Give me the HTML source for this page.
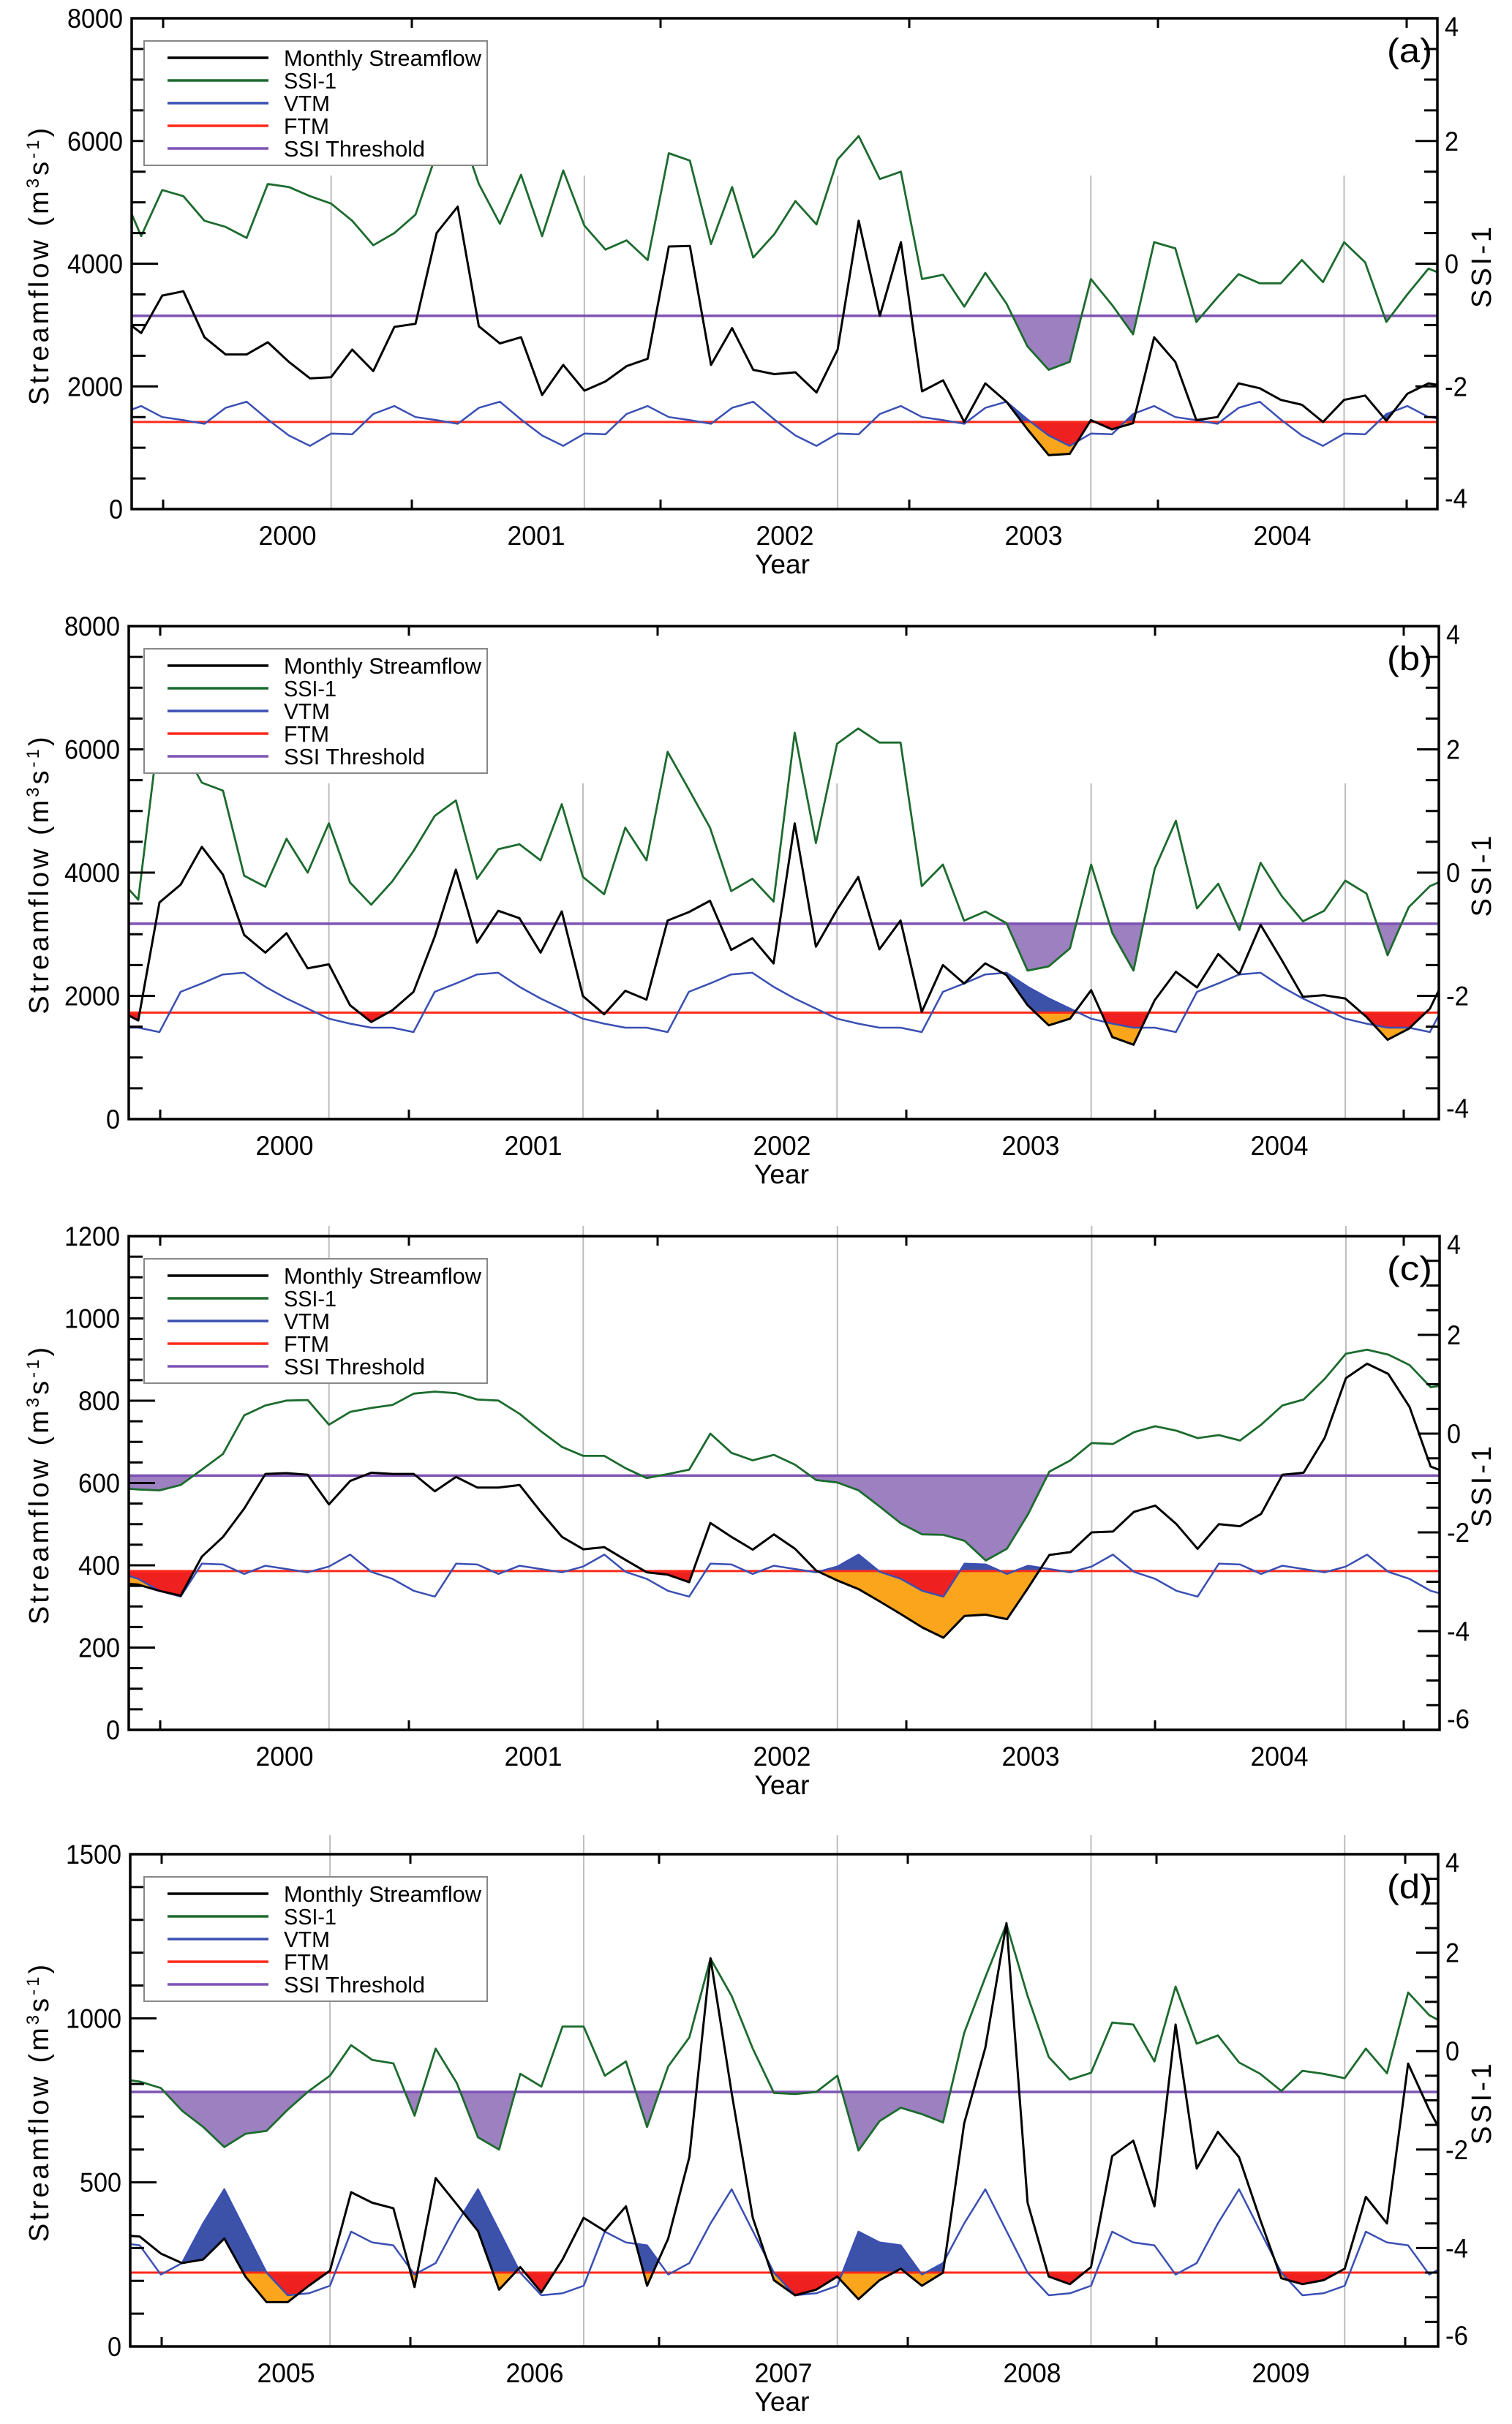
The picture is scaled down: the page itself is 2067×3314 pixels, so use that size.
<!DOCTYPE html>
<html><head><meta charset="utf-8"><title>Streamflow drought panels</title>
<style>
html,body{margin:0;padding:0;background:#fff;}
svg{display:block;font-family:"Liberation Sans",Arial,sans-serif;}
</style></head>
<body>
<svg id="fig" xmlns="http://www.w3.org/2000/svg" width="2067" height="3314" viewBox="0 0 2067 3314">
<rect x="0" y="0" width="2067" height="3314" fill="#fff"/>
</svg>
<script>
// ---- data (index 0 = month -2 relative to Jan of first year, up to month 62) ----
const yearsA = ['2000','2001','2002','2003','2004'];
const yearsD = ['2005','2006','2007','2008','2009'];

const aFlow = [3130,2870,3480,3550,2800,2520,2520,2720,2400,2130,2150,2600,2250,2970,3020,4500,4930,2980,2700,2800,1860,2350,1930,2080,2330,2450,4280,4290,2350,2950,2270,2200,2230,1900,2600,4700,3150,4350,1920,2100,1420,2050,1750,1300,880,900,1450,1300,1400,2800,2400,1450,1500,2050,1970,1780,1700,1420,1780,1850,1440,1880,2050,1990,1950];
const aSSI = [1.25,0.45,1.2,1.1,0.7,0.6,0.42,1.3,1.25,1.1,0.98,0.7,0.3,0.5,0.8,1.8,2.3,1.3,0.65,1.45,0.45,1.52,0.62,0.23,0.38,0.06,1.8,1.68,0.32,1.25,0.1,0.48,1.02,0.64,1.7,2.08,1.38,1.5,-0.25,-0.18,-0.7,-0.15,-0.65,-1.35,-1.73,-1.6,-0.25,-0.67,-1.15,0.35,0.25,-0.95,-0.55,-0.17,-0.32,-0.32,0.06,-0.3,0.35,0.02,-0.95,-0.5,-0.08,-0.22,-0.3];
const aVTM = [1500,1450,1390,1650,1750,1460,1200,1030,1230,1220,1550,1680];
const aFTM = 1420;
const aThr = -0.85;

const bFlow = [1780,1600,3516,3804,4418,3967,2989,2701,3016,2446,2511,1848,1576,1766,2065,2962,4049,2864,3380,3261,2701,3370,1995,1701,2082,1940,3223,3359,3543,2745,2935,2527,4799,2799,3397,3929,2755,3223,1739,2500,2201,2527,2337,1848,1522,1630,2092,1332,1207,1929,2391,2136,2679,2353,3152,2582,1984,2011,1957,1658,1288,1467,1793,2500,2700];
const bSSI = [-0.06,-0.44,2.37,2.09,1.46,1.33,-0.05,-0.23,0.55,0.0,0.8,-0.16,-0.52,-0.14,0.35,0.92,1.17,-0.1,0.38,0.46,0.2,1.11,-0.07,-0.35,0.73,0.2,1.96,1.35,0.73,-0.3,-0.1,-0.47,2.27,0.48,2.09,2.34,2.11,2.11,-0.22,0.13,-0.78,-0.63,-0.82,-1.59,-1.52,-1.23,0.13,-0.98,-1.59,0.06,0.84,-0.58,-0.18,-0.93,0.16,-0.38,-0.79,-0.62,-0.13,-0.34,-1.34,-0.56,-0.22,-0.07,0.05];
const bVTM = [1413,2065,2201,2348,2375,2147,1957,1793,1630,1549,1484,1484];
const bFTM = 1728;
const bThr = -0.83;

const cFlow = [357,353,338,326,421,469,538,622,624,620,548,605,625,622,622,580,615,589,589,595,530,469,439,444,413,383,377,359,503,469,438,475,440,387,363,342,312,281,249,224,277,280,269,345,425,432,480,482,530,545,500,440,500,495,525,620,625,710,855,890,865,785,640,620,600];
const cSSI = [-1.1,-1.13,-1.15,-1.04,-0.73,-0.41,0.37,0.57,0.67,0.68,0.18,0.44,0.52,0.58,0.81,0.85,0.82,0.69,0.67,0.4,0.05,-0.27,-0.45,-0.45,-0.7,-0.9,-0.82,-0.73,0.0,-0.39,-0.54,-0.43,-0.63,-0.94,-0.99,-1.15,-1.48,-1.82,-2.04,-2.05,-2.17,-2.57,-2.33,-1.63,-0.77,-0.54,-0.19,-0.21,0.03,0.15,0.06,-0.09,-0.03,-0.14,0.18,0.57,0.69,1.11,1.62,1.7,1.6,1.39,0.94,1.0,0.9];
const cVTM = [338,324,404,402,379,399,391,383,397,426,384,367];
const cFTM = 386;
const cThr = -0.85;

const dFlow = [340,335,283,254,265,329,213,135,135,185,231,470,438,421,181,513,433,352,173,242,165,265,392,352,427,185,329,577,1183,773,392,202,156,173,213,144,202,237,185,225,680,910,1290,438,213,190,242,580,627,427,981,542,654,577,387,208,190,202,237,456,375,862,721,600,560];
const dSSI = [-0.56,-0.62,-0.75,-1.21,-1.54,-1.95,-1.68,-1.62,-1.19,-0.81,-0.5,0.12,-0.18,-0.25,-1.31,0.05,-0.65,-1.75,-2.0,-0.46,-0.72,0.5,0.5,-0.5,-0.21,-1.54,-0.31,0.28,1.88,1.12,0.05,-0.85,-0.87,-0.83,-0.5,-2.02,-1.42,-1.15,-1.28,-1.45,0.37,1.5,2.58,1.12,-0.12,-0.58,-0.44,0.58,0.54,-0.21,1.31,0.15,0.32,-0.23,-0.46,-0.81,-0.4,-0.46,-0.55,0.05,-0.45,1.19,0.73,0.5,0.4];
const dVTM = [219,254,375,479,352,225,156,162,185,350,317,308];
const dFTM = 225;
const dThr = -0.83;

const legendLabels = ['Monthly Streamflow','SSI-1','VTM','FTM','SSI Threshold'];
const legendWidths = [270,72,63,62,193];

// ---- layout ----
const COL = {flow:'#000000', ssi:'#1c6b2e', vtm:'#3a4fb3', ftm:'#ff2a1a', thr:'#7e52b3',
             fillP:'#9c80bf', fillB:'#3c52a8', fillR:'#ee2020', fillO:'#fba51c', grid:'#bdbdbd'};
const legendColors = [COL.flow, COL.ssi, COL.vtm, COL.ftm, COL.thr];

const panels = [
 {id:'a', label:'(a)', left:180, right:1965, top:25,   bottom:696,  flow:aFlow, ssi:aSSI, vtm:aVTM, ftm:aFTM, thr:aThr, lmin:0, lmax:8000, lmaj:2000, lminr:500, rmin:-4, rmax:4, years:yearsA, gridTop:215},
 {id:'b', label:'(b)', left:176, right:1967, top:856,  bottom:1530, flow:bFlow, ssi:bSSI, vtm:bVTM, ftm:bFTM, thr:bThr, lmin:0, lmax:8000, lmaj:2000, lminr:500, rmin:-4, rmax:4, years:yearsA, gridTop:215},
 {id:'c', label:'(c)', left:176, right:1968, top:1690, bottom:2365, flow:cFlow, ssi:cSSI, vtm:cVTM, ftm:cFTM, thr:cThr, lmin:0, lmax:1200, lmaj:200, lminr:50, rmin:-6, rmax:4, years:yearsA, gridTop:-14},
 {id:'d', label:'(d)', left:178, right:1966, top:2535, bottom:3208, flow:dFlow, ssi:dSSI, vtm:dVTM, ftm:dFTM, thr:dThr, lmin:0, lmax:1500, lmaj:500, lminr:100, rmin:-6, rmax:4, years:yearsD, gridTop:-26}
];

const NS = 'http://www.w3.org/2000/svg';
const svg = document.getElementById('fig');
function mk(tag, attrs, parent){
  const e = document.createElementNS(NS, tag);
  for (const k in attrs) e.setAttribute(k, attrs[k]);
  (parent || svg).appendChild(e);
  return e;
}
function vtmAt(p, m){ return p.vtm[((m % 12) + 12) % 12]; }
function arrAt(arr, t){ const u = t + 2; let i = Math.floor(u); if (i < 0) i = 0; if (i > arr.length - 2) i = arr.length - 2; const f = u - i; return arr[i] * (1 - f) + arr[i + 1] * f; }
function vtmInterp(p, t){ const i = Math.floor(t); const f = t - i; return vtmAt(p, i) * (1 - f) + vtmAt(p, i + 1) * f; }

panels.forEach(p => {
  const g = mk('g', {});
  
  
  const W = (p.right - p.left) / 61.87;
  const xm = m => p.left + (m + 1.45) * W;
  const tickW = 340 / 12;
  const tick0 = p.left + 43;
  const yL = v => p.bottom - (v - p.lmin) / (p.lmax - p.lmin) * (p.bottom - p.top);
  const yR = s => p.bottom - (s - p.rmin) / (p.rmax - p.rmin) * (p.bottom - p.top);
  const tMin = -1.45, tMax = (p.right - p.left) / W - 1.45;

  const clipId = 'clip-' + p.id;
  const defs = mk('defs', {}, g);
  const cp = mk('clipPath', {id: clipId}, defs);
  mk('rect', {x: p.left, y: p.top, width: p.right - p.left, height: p.bottom - p.top}, cp);

  for (let k = 0; k < 5; k++) {
    const gx = xm(8 + 12 * k);
    const gl = mk('line', {x1: gx, x2: gx, y1: p.top + p.gridTop, y2: p.bottom, stroke: COL.grid, 'stroke-width': 2}, g);
    
    
  }

  const plot = mk('g', {'clip-path': 'url(#' + clipId + ')'}, g);
  
  

  const step = 0.02;
  const samples = [];
  for (let t = tMin; t <= tMax + 1e-9; t += step) {
    samples.push({t: t, f: arrAt(p.flow, t), s: arrAt(p.ssi, t), v: vtmInterp(p, t)});
  }
  function region(name, color, fn) {
    let run = [];
    const flush = () => {
      if (run.length > 1) {
        const pts = run.map(r => r.x.toFixed(1) + ',' + r.hi.toFixed(1)).concat(run.slice().reverse().map(r => r.x.toFixed(1) + ',' + r.lo.toFixed(1)));
        const pg = mk('polygon', {points: pts.join(' '), fill: color, stroke: color, 'stroke-width': 0.6}, plot);
        
        
      }
      run = [];
    };
    samples.forEach(sm => {
      const r = fn(sm);
      if (r) run.push({x: xm(sm.t), hi: r[0], lo: r[1]}); else flush();
    });
    flush();
  }
  region('ssi-deficit-fill', COL.fillP, sm => sm.s < p.thr ? [yR(p.thr), yR(sm.s)] : null);
  region('vtm-deficit-fill', COL.fillB, sm => { const lo = Math.max(sm.f, p.ftm); return sm.v > lo ? [yL(sm.v), yL(lo)] : null; });
  region('ftm-deficit-fill', COL.fillR, sm => { const lo = Math.max(sm.v, sm.f); return p.ftm > lo ? [yL(p.ftm), yL(lo)] : null; });
  region('combined-deficit-fill', COL.fillO, sm => { const hi = Math.min(sm.v, p.ftm); return sm.f < hi ? [yL(hi), yL(sm.f)] : null; });

  const ms = []; for (let m = -2; m <= 62; m++) ms.push(m);
  const thrLine = mk('line', {x1: p.left, x2: p.right, y1: yR(p.thr), y2: yR(p.thr), stroke: COL.thr, 'stroke-width': 3.5}, plot);
  
  
  const ftmLine = mk('line', {x1: p.left, x2: p.right, y1: yL(p.ftm), y2: yL(p.ftm), stroke: COL.ftm, 'stroke-width': 3}, plot);
  
  
  const vtmL = mk('polyline', {points: ms.map(m => xm(m).toFixed(1) + ',' + yL(vtmAt(p, m)).toFixed(1)).join(' '), fill: 'none', stroke: COL.vtm, 'stroke-width': 2.5, 'stroke-linejoin': 'round'}, plot);
  
  
  const ssiL = mk('polyline', {points: ms.map((m, i) => xm(m).toFixed(1) + ',' + yR(p.ssi[i]).toFixed(1)).join(' '), fill: 'none', stroke: COL.ssi, 'stroke-width': 2.8, 'stroke-linejoin': 'round'}, plot);
  
  
  const flowL = mk('polyline', {points: ms.map((m, i) => xm(m).toFixed(1) + ',' + yL(p.flow[i]).toFixed(1)).join(' '), fill: 'none', stroke: COL.flow, 'stroke-width': 3, 'stroke-linejoin': 'round'}, plot);
  
  

  const frame = mk('rect', {x: p.left, y: p.top, width: p.right - p.left, height: p.bottom - p.top, fill: 'none', stroke: '#000', 'stroke-width': 3.5}, g);
  
  

  for (let v = p.lmin; v <= p.lmax + 1e-9; v += p.lminr) {
    const major = Math.abs(v / p.lmaj - Math.round(v / p.lmaj)) < 1e-6;
    const y = yL(v);
    const tk = mk('line', {x1: p.left, x2: p.left + (major ? 36 : 19), y1: y, y2: y, stroke: '#000', 'stroke-width': 3}, g);
    
    
    if (major) {
      const s = String(v);
      const tx = mk('text', {x: p.left - 12, y: y + 13, 'text-anchor': 'end', 'font-size': 37, textLength: s.length * 19, lengthAdjust: 'spacingAndGlyphs', fill: '#000'}, g);
      tx.textContent = s;
      
      
    }
  }
  for (let s = p.rmin; s <= p.rmax + 1e-9; s += 0.5) {
    const major = Math.abs(s / 2 - Math.round(s / 2)) < 1e-6;
    const y = yR(s);
    const tk = mk('line', {x1: p.right, x2: p.right - (major ? 30 : 18), y1: y, y2: y, stroke: '#000', 'stroke-width': 3}, g);
    
    
    if (major) {
      const lab = String(s);
      const w = lab.replace('-', '').length * 19 + (lab[0] === '-' ? 12 : 0);
      let ly = y + 13;
      if (s === p.rmin) ly = y - 2;
      if (s === p.rmax) ly = y + 24;
      const tx = mk('text', {x: p.right + 10, y: ly, 'font-size': 37, textLength: w, lengthAdjust: 'spacingAndGlyphs', fill: '#000'}, g);
      tx.textContent = lab;
      
      
    }
  }
  for (let k = 0; k < 6; k++) {
    const x = tick0 + 12 * k * tickW;
    const t1 = mk('line', {x1: x, x2: x, y1: p.bottom, y2: p.bottom - 13, stroke: '#000', 'stroke-width': 3}, g);
    
    
    const t2 = mk('line', {x1: x, x2: x, y1: p.top, y2: p.top + 13, stroke: '#000', 'stroke-width': 3}, g);
    
    
    if (k < p.years.length) {
      const tx = mk('text', {x: x + 6 * tickW, y: p.bottom + 49, 'text-anchor': 'middle', 'font-size': 37, textLength: 79, lengthAdjust: 'spacingAndGlyphs', fill: '#000'}, g);
      tx.textContent = p.years[k];
      
      
    }
  }
  const xt = mk('text', {x: (p.left + p.right) / 2 - 3, y: p.bottom + 88, 'text-anchor': 'middle', 'font-size': 37, textLength: 75, lengthAdjust: 'spacingAndGlyphs', fill: '#000'}, g);
  xt.textContent = 'Year';
  
  

  const midY = (p.top + p.bottom) / 2;
  const yt = mk('text', {x: 0, y: 0, transform: 'translate(66,' + (midY + 2) + ') rotate(-90)', 'text-anchor': 'middle', 'font-size': 38, 'letter-spacing': 4, fill: '#000'}, g);
  
  
  yt.appendChild(document.createTextNode('Streamflow (m'));
  const sup1 = mk('tspan', {'baseline-shift': 'super', 'font-size': 24}, yt); sup1.textContent = '3';
  yt.appendChild(document.createTextNode('s'));
  const sup2 = mk('tspan', {'baseline-shift': 'super', 'font-size': 24}, yt); sup2.textContent = '-1';
  yt.appendChild(document.createTextNode(')'));
  const rt = mk('text', {x: 0, y: 0, transform: 'translate(2038,' + (midY + 3) + ') rotate(-90)', 'text-anchor': 'middle', 'font-size': 38, 'letter-spacing': 4, fill: '#000'}, g);
  rt.textContent = 'SSI-1';
  
  

  const pl = mk('text', {x: 1958, y: p.top + 60, 'text-anchor': 'end', 'font-size': 46, textLength: 62, lengthAdjust: 'spacingAndGlyphs', fill: '#000'}, g);
  pl.textContent = p.label;
  
  

  const lg = mk('g', {}, g);
  
  
  const lb = mk('rect', {x: 197, y: p.top + 31, width: 469, height: 170, fill: '#fff', stroke: '#888', 'stroke-width': 2}, lg);
  
  
  legendLabels.forEach((lab, i) => {
    const cy = p.top + 54 + i * 31;
    const ll = mk('line', {x1: 229, x2: 367, y1: cy, y2: cy, stroke: legendColors[i], 'stroke-width': 3.5}, lg);
    
    
    const lt = mk('text', {x: 388, y: cy + 11, 'font-size': 31, textLength: legendWidths[i], lengthAdjust: 'spacingAndGlyphs', fill: '#000'}, lg);
    lt.textContent = lab;
    
    
  });
});
</script>
</body></html>
